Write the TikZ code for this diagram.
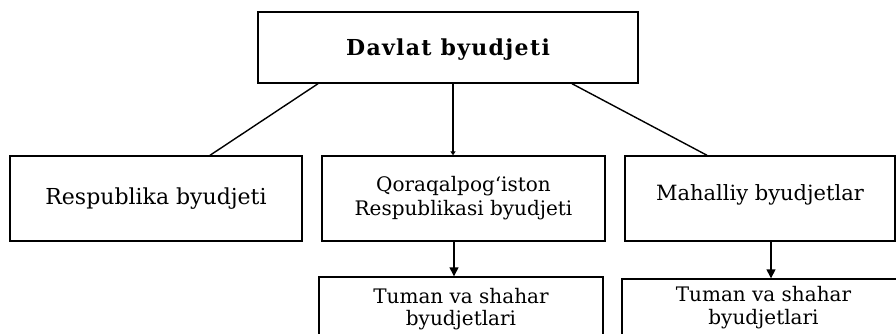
\documentclass[tikz,border=0pt]{standalone}
\usepackage{fontspec}
\setmainfont{DejaVu Serif}
\usetikzlibrary{arrows.meta}
\tikzstyle{arrowline} = [-{Triangle[length=9pt,width=9pt]}]
\tikzstyle{smallarrow} = [-{Triangle[length=4pt,width=5pt]}]
\tikzstyle{bBox}=[rectangle, draw=black, line width=1.4pt, align=center, inner sep=0pt]

\begin{document}
\begin{tikzpicture}[x=1pt,y=-1pt, every node/.style={font=\fontsize{20}{24}\selectfont}, line width=1.4pt]
        \useasboundingbox (0,0) rectangle (896,334);
        \node[bBox, minimum width=380pt, minimum height=71pt, font=\fontsize{22}{26}\selectfont\bfseries\addfontfeature{LetterSpace=6}] (b1) at (448,47.5) {\raisebox{-2pt}[\height][\depth]{Davlat byudjeti}};
        \node[bBox, minimum width=292pt, minimum height=85pt, font=\fontsize{22}{26}\selectfont] (b2) at (156,198.5) {Respublika byudjeti};
        \node[bBox, minimum width=283pt, minimum height=85pt] (b3) at (463.5,198.5) {Qoraqalpog‘iston\\Respublikasi byudjeti};
        \node[bBox, minimum width=270pt, minimum height=85pt, font=\fontsize{21}{25}\selectfont] (b4) at (760,198.5) {\raisebox{4pt}[\height][\depth]{Mahalliy byudjetlar}};
        \node[bBox, minimum width=284pt, minimum height=65pt, font=\fontsize{20}{22}\selectfont] (b5) at (461,309.5) {Tuman va shahar\\byudjetlari};
        \node[bBox, minimum width=283pt, minimum height=57pt, font=\fontsize{20}{23}\selectfont] (b6) at (763.5,307.5) {Tuman va shahar\\byudjetlari};

        \draw ([xshift=-130pt]b1.south) -- ([xshift=54pt]b2.north);
        \draw[smallarrow] ([xshift=5pt]b1.south) -- ([xshift=-10.5pt]b3.north);
        \draw ([xshift=124pt]b1.south) -- ([xshift=-53pt]b4.north);

        \draw[arrowline] ([xshift=-9.5pt]b3.south) -- ([xshift=-7pt]b5.north);
        \draw[arrowline] ([xshift=11pt]b4.south) -- ([xshift=7.5pt]b6.north);
\end{tikzpicture}
\end{document}
